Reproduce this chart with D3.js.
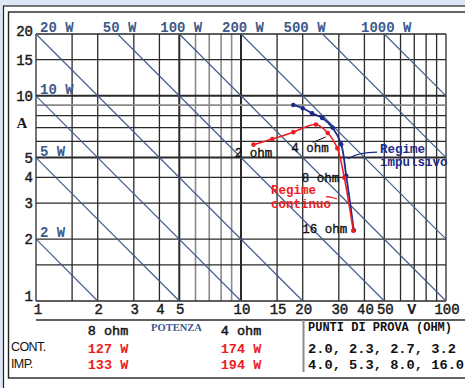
<!DOCTYPE html>
<html>
<head>
<meta charset="utf-8">
<script src="https://cdn.jsdelivr.net/npm/d3@7"></script>
<style>
  body { margin: 0; background: #dce6f4; }
  svg { display: block; }
</style>
</head>
<body>
<div id="chart"></div>
<script>
// grid values: volt (x) and ampere (y), log scales
const gridVolts = [1, 1.5, 2, 3, 4, 5, 6, 7, 8, 9, 10, 15, 20, 30, 40, 50, 60, 70, 80, 90, 100];
const gridAmps = [1, 1.5, 2, 3, 4, 5, 6, 7, 8, 9, 10, 15, 20];
const voltTicks = [1, 2, 3, 4, 5, 10, 15, 20, 30, 40, 50, 100];
const ampTicks = [1, 2, 3, 4, 5, 10, 15, 20];
const powerWatts = [2, 5, 10, 20, 50, 100, 200, 500, 1000];

// test loads (ohm)
const testOhms = [2.0, 2.3, 2.7, 3.2, 4.0, 5.3, 8.0, 16.0];
// regime continuo
const contVolts = [11.5, 14.2, 18.0, 23.2, 26.5, 29.5, 31.9, 35.3];
const contAmps = [5.78, 6.16, 6.65, 7.24, 6.59, 5.55, 3.99, 2.2];
// regime impulsivo
const impVolts = [18.0, 20.0, 22.2, 24.9, 28.0, 30.8, 32.6, 35.5];
const impAmps = [9.02, 8.69, 8.22, 7.8, 6.99, 5.8, 4.08, 2.21];

// power table
const tableLoads = ["8 ohm", "4 ohm"];
const contWatts = [127, 174];
const impWatts = [133, 194];

var width = 465, height = 388;
var MONO = "'Liberation Mono', 'Courier New', monospace";
var POWER_COLOR = "#3d5a8c";
var RED = "#ee1c25";
var BLUE = "#1e2a8a";

var x = d3.scaleLog().domain([1, 100]).range([36, 446]);
var y = d3.scaleLog().domain([1, 20]).range([301, 34]);

var svg = d3.select("#chart")
  .append("svg")
  .attr("width", width)
  .attr("height", height);

// frame
svg.append("rect").attr("width", width).attr("height", height).attr("fill", "#dce6f4");
svg.append("rect")
  .attr("x", 3.5).attr("y", 6).attr("width", 480).attr("height", 400)
  .attr("fill", "#fff").attr("stroke", "#222").attr("stroke-width", 1.2);
svg.append("rect")
  .attr("x", 8.5).attr("y", 12).attr("width", 480).attr("height", 366)
  .attr("fill", "none").attr("stroke", "#222").attr("stroke-width", 1.4);

// grid
var lightV = [6, 7, 8, 9], lightI = [9];
var heavy = [5, 10];
function gridStroke(d, light) {
  return light.indexOf(d) >= 0 ? "#8a8a8a" : "#2a2a2a";
}
function gridWidth(d, light) {
  if (light.indexOf(d) >= 0) return 1.6;
  return heavy.indexOf(d) >= 0 ? 2 : 1.3;
}

svg.append("g")
  .selectAll("line")
  .data(gridVolts)
  .enter()
  .append("line")
  .attr("x1", function (d) { return x(d); })
  .attr("x2", function (d) { return x(d); })
  .attr("y1", y(1))
  .attr("y2", y(20))
  .attr("stroke", function (d) { return gridStroke(d, lightV); })
  .attr("stroke-width", function (d) { return gridWidth(d, lightV); });

svg.append("g")
  .selectAll("line")
  .data(gridAmps)
  .enter()
  .append("line")
  .attr("x1", x(1))
  .attr("x2", x(100))
  .attr("y1", function (d) { return y(d); })
  .attr("y2", function (d) { return y(d); })
  .attr("stroke", function (d) { return gridStroke(d, lightI); })
  .attr("stroke-width", function (d) { return gridWidth(d, lightI); });

// constant power lines P = V * I
var powerLine = d3.line()
  .x(function (d) { return x(d[0]); })
  .y(function (d) { return y(d[1]); });

svg.append("g")
  .selectAll("path")
  .data(powerWatts)
  .enter()
  .append("path")
  .attr("d", function (p) {
    var v0 = Math.max(1, p / 20), v1 = Math.min(100, p / 1);
    return powerLine([[v0, p / v0], [v1, p / v1]]);
  })
  .attr("fill", "none")
  .attr("stroke", POWER_COLOR)
  .attr("stroke-width", 1.1);

// power labels
svg.append("g")
  .selectAll("text")
  .data(powerWatts)
  .enter()
  .append("text")
  .attr("x", function (p) {
    if (p <= 20) return x(1) + 4;
    if (p === 500) return x(p / 20) + 3;
    return x(p / 20) + 2;
  })
  .attr("y", function (p) {
    return p < 20 ? y(p) - 2 : y(20) - 2;
  })
  .attr("text-anchor", function (p) {
    if (p <= 20) return "start";
    return p === 500 ? "end" : "middle";
  })
  .style("font-family", MONO)
  .style("font-weight", "bold")
  .style("font-size", "14px")
  .attr("fill", POWER_COLOR)
  .text(function (p) { return p + " W"; });

// axis labels
svg.append("g")
  .selectAll("text")
  .data(ampTicks)
  .enter()
  .append("text")
  .attr("x", 33)
  .attr("y", function (d) {
    if (d === 20) return y(d) + 2;
    if (d === 1) return y(d);
    return y(d) + 5;
  })
  .attr("text-anchor", "end")
  .style("font-family", MONO)
  .style("font-size", "14px")
  .attr("fill", "#1a1a1a")
  .attr("stroke", "#1a1a1a")
  .attr("stroke-width", 0.45)
  .text(function (d) { return d; });

svg.append("g")
  .selectAll("text")
  .data(voltTicks)
  .enter()
  .append("text")
  .attr("x", function (d) { return x(d) + (d === 1 ? 2 : 1); })
  .attr("y", 313.5)
  .attr("text-anchor", "middle")
  .style("font-family", MONO)
  .style("font-size", "14px")
  .attr("fill", "#1a1a1a")
  .attr("stroke", "#1a1a1a")
  .attr("stroke-width", 0.45)
  .text(function (d) { return d; });

svg.append("text")
  .attr("x", x(68))
  .attr("y", 313.5)
  .attr("text-anchor", "middle")
  .style("font-family", MONO)
  .style("font-weight", "bold")
  .style("font-size", "15px")
  .attr("fill", "#1a1a1a")
  .text("V");

svg.append("text")
  .attr("x", 22)
  .attr("y", 128)
  .attr("text-anchor", "middle")
  .style("font-family", "'Liberation Serif', serif")
  .style("font-weight", "bold")
  .style("font-size", "15px")
  .attr("fill", "#1a1a1a")
  .text("A");

// curves
function series(volts, amps) {
  return volts.map(function (v, i) { return { v: v, a: amps[i], r: testOhms[i] }; });
}
var contData = series(contVolts, contAmps);
var impData = series(impVolts, impAmps);

var curve = d3.line()
  .x(function (d) { return x(d.v); })
  .y(function (d) { return y(d.a); })
  .curve(d3.curveCatmullRom.alpha(0.5));

function drawSeries(data, color, w) {
  svg.append("path")
    .datum(data)
    .attr("d", curve)
    .attr("fill", "none")
    .attr("stroke", color)
    .attr("stroke-width", w);
  svg.append("g")
    .selectAll("circle")
    .data(data)
    .enter()
    .append("circle")
    .attr("cx", function (d) { return x(d.v); })
    .attr("cy", function (d) { return y(d.a); })
    .attr("r", 2.3)
    .attr("fill", color);
}
drawSeries(impData, BLUE, 1.8);
drawSeries(contData, RED, 1.6);

// point annotations
function note(txt, px, py, anchor, color, bold) {
  svg.append("text")
    .attr("x", px)
    .attr("y", py)
    .attr("text-anchor", anchor)
    .style("font-family", MONO)
    .style("font-weight", bold ? "bold" : "normal")
    .style("font-size", "12.5px")
    .attr("fill", color)
    .attr("stroke", bold ? "none" : color)
    .attr("stroke-width", 0.35)
    .text(txt);
}
var c = contData;
note("2 ohm", x(c[0].v), y(c[0].a) + 12, "middle", "#111", false);
note("4 ohm", x(c[4].v) + 1, y(c[4].a) + 19, "end", "#111", false);
note("8 ohm", x(c[6].v) - 5, y(c[6].a) + 4.5, "end", "#111", false);
note("16 ohm", x(c[7].v) - 6, y(c[7].a) + 2, "end", "#111", false);

svg.append("line")
  .attr("x1", x(c[4].v) - 15).attr("y1", y(c[4].a) + 9.5)
  .attr("x2", x(c[4].v) - 2).attr("y2", y(c[4].a) + 4)
  .attr("stroke", "#111").attr("stroke-width", 1);

note("Regime", x(14.0), y(3.32), "start", RED, true);
note("continuo", x(14.0), y(2.84), "start", RED, true);
svg.append("path")
  .attr("d", "M" + (x(14.0) + 55) + "," + (y(3.32) + 2.5) +
    " Q" + (x(14.0) + 62) + "," + (y(3.32) + 3) + " " + (x(14.0) + 66) + "," + (y(3.32) + 5))
  .attr("fill", "none").attr("stroke", RED).attr("stroke-width", 1.2);

note("Regime", x(47.7), y(5.25), "start", BLUE, true);
note("impulsivo", x(47.7), y(4.54), "start", BLUE, true);
svg.append("path")
  .attr("d", "M" + (x(47.7) - 3) + "," + (y(5.25) - 1) +
    " Q" + (x(47.7) - 22) + "," + (y(5.25) - 1) + " " + (x(47.7) - 32) + "," + (y(5.25) + 5.5))
  .attr("fill", "none").attr("stroke", BLUE).attr("stroke-width", 1.2);

// table below the chart
svg.append("line")
  .attr("x1", x(1)).attr("x2", width)
  .attr("y1", 320).attr("y2", 320)
  .attr("stroke", "#2a2a2a").attr("stroke-width", 1.5);
svg.append("line")
  .attr("x1", 303.5).attr("x2", 303.5)
  .attr("y1", 320).attr("y2", 372)
  .attr("stroke", "#8a8a8a").attr("stroke-width", 2);

var colX = [108, 241];
tableLoads.forEach(function (t, i) {
  svg.append("text")
    .attr("x", colX[i]).attr("y", 335)
    .attr("text-anchor", "middle")
    .style("font-family", MONO).style("font-size", "13.5px")
    .attr("stroke", "#111").attr("stroke-width", 0.45)
    .attr("fill", "#111").text(t);
  svg.append("text")
    .attr("x", colX[i]).attr("y", 352.5)
    .attr("text-anchor", "middle")
    .style("font-family", MONO).style("font-size", "13.5px")
    .style("font-weight", "bold")
    .attr("fill", RED).text(contWatts[i] + " W");
  svg.append("text")
    .attr("x", colX[i]).attr("y", 369.3)
    .attr("text-anchor", "middle")
    .style("font-family", MONO).style("font-size", "13.5px")
    .style("font-weight", "bold")
    .attr("fill", RED).text(impWatts[i] + " W");
});

svg.append("text")
  .attr("x", 176.5).attr("y", 330.5)
  .attr("text-anchor", "middle")
  .style("font-family", "'Liberation Serif', serif")
  .style("font-weight", "bold").style("font-size", "10.5px")
  .attr("fill", POWER_COLOR).text("POTENZA");

["CONT.", "IMP."].forEach(function (t, i) {
  svg.append("text")
    .attr("x", 11).attr("y", i === 0 ? 350.7 : 367.5)
    .style("font-family", "'Liberation Sans', sans-serif")
    .style("font-size", "12.5px").style("letter-spacing", "-0.6px")
    .attr("fill", "#111").text(t);
});

svg.append("text")
  .attr("x", 308).attr("y", 330.7)
  .style("font-family", MONO).style("font-weight", "bold").style("font-size", "12px")
  .attr("fill", "#111").text("PUNTI DI PROVA (OHM)");

var fmt = function (d) { return d.toFixed(1); };
[testOhms.slice(0, 4), testOhms.slice(4)].forEach(function (row, i) {
  svg.append("text")
    .attr("x", 308).attr("y", i === 0 ? 353 : 369.3)
    .style("font-family", MONO).style("font-weight", "bold").style("font-size", "13.7px")
    .attr("fill", "#111").text(row.map(fmt).join(", "));
});
</script>
</body>
</html>
